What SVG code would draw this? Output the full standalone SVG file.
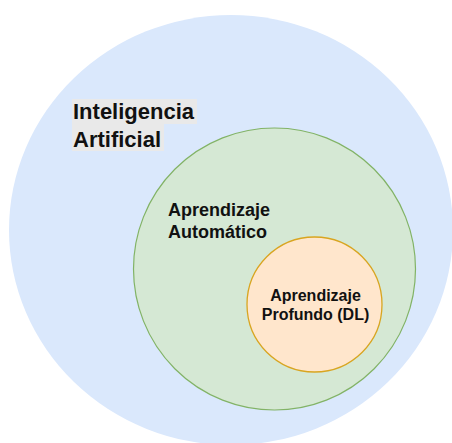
<svg xmlns="http://www.w3.org/2000/svg" width="452" height="443" viewBox="0 0 452 443">
  <style>
    .label { font-family: "Liberation Sans", Arial, Helvetica, sans-serif; font-weight: bold; fill: #111111; }
    .ai { fill: #dae8fc; stroke: none; }
    .ml { fill: #d5e8d4; stroke: #82b366; stroke-width: 1.2; }
    .dl { fill: #ffe6cc; stroke: #d9a520; stroke-width: 1.3; }
    .hl { fill: #e9e9e9; }
  </style>

  <rect width="452" height="443" fill="#ffffff"/>

  <!-- Outer set: Artificial Intelligence -->
  <g id="ia">
    <ellipse class="ai" cx="231" cy="230" rx="222" ry="215"/>
    <rect class="hl" x="72" y="99" width="125" height="25"/>
    <rect class="hl" x="72" y="124" width="92" height="27"/>
    <text class="label" x="73" y="119" font-size="22">Inteligencia</text>
    <text class="label" x="73" y="147" font-size="22">Artificial</text>
  </g>

  <!-- Middle set: Machine Learning -->
  <g id="aprendizaje-automatico">
    <circle class="ml" cx="274.5" cy="269" r="141"/>
    <text class="label" x="168" y="216" font-size="18">Aprendizaje</text>
    <text class="label" x="168" y="237.5" font-size="18">Automático</text>
  </g>

  <!-- Inner set: Deep Learning -->
  <g id="aprendizaje-profundo">
    <circle class="dl" cx="314.5" cy="304.5" r="67.5"/>
    <text class="label" x="315.5" y="301" font-size="16" text-anchor="middle">Aprendizaje</text>
    <text class="label" x="315.5" y="320" font-size="16" text-anchor="middle">Profundo (DL)</text>
  </g>
</svg>
